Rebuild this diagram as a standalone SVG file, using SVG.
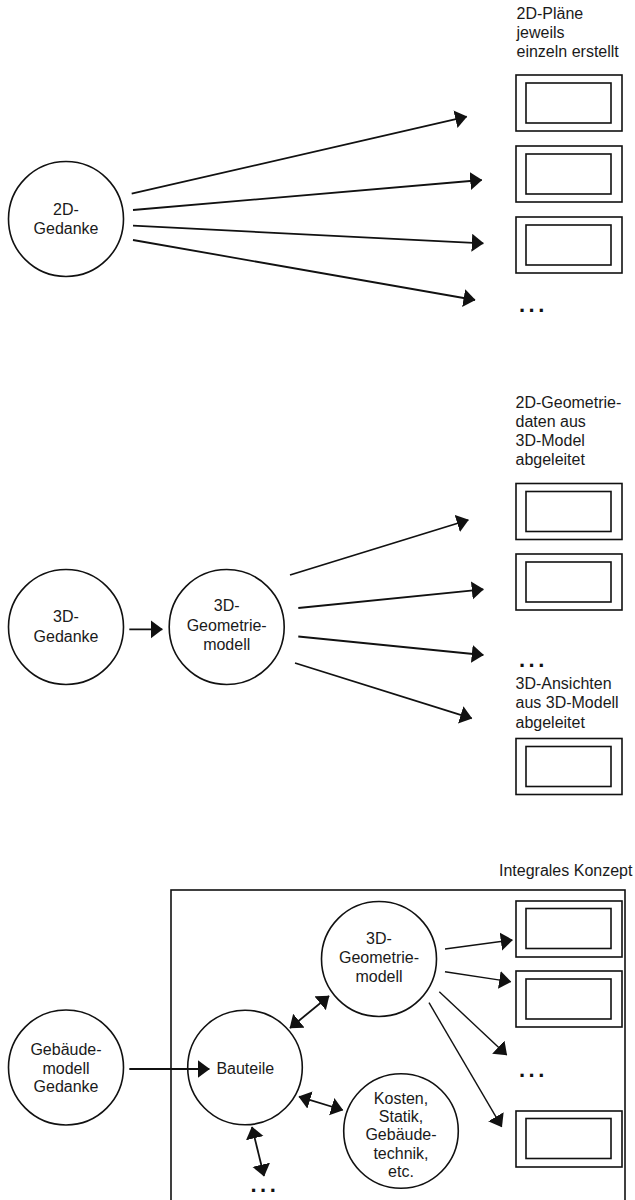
<svg xmlns="http://www.w3.org/2000/svg" width="635" height="1200" viewBox="0 0 635 1200">
<defs>
<style>
.node circle{fill:#fff;stroke:#111;stroke-width:1.6}
.t{font-family:"Liberation Sans",Arial,sans-serif;font-size:16px;fill:#1a1a1a}
.c{text-anchor:middle}
.lbl{font-family:"Liberation Sans",Arial,sans-serif;font-size:16px;fill:#1a1a1a}
.dots{font-family:"Liberation Sans",Arial,sans-serif;font-size:22px;font-weight:bold;fill:#111;letter-spacing:3.5px}
.o{fill:#fff;stroke:#111;stroke-width:1.6}
.i{fill:#fff;stroke:#111;stroke-width:1.6}
.frame{fill:none;stroke:#111;stroke-width:1.6}
#connectors line{stroke:#111;stroke-width:1.8;fill:none;marker-end:url(#ah)}
#connectors line.thin{stroke-width:1.4}
#connectors line.both{marker-start:url(#ah)}
</style>
<marker id="ah" markerUnits="userSpaceOnUse" markerWidth="13" markerHeight="19" refX="11.5" refY="9" orient="auto-start-reverse" viewBox="0 0 13 19">
<path d="M0,0 L12,9 L0,18 z" fill="#111"/>
</marker>
</defs>

<!-- Section 1 -->
<g id="n-2d-gedanke" class="node">
<circle cx="66" cy="219" r="57.5"/>
<text class="t c" x="66" y="215">2D-</text>
<text class="t c" x="66" y="234">Gedanke</text>
</g>
<g id="label-2d-plaene">
<text class="lbl" x="516.5" y="19">2D-Pläne</text>
<text class="lbl" x="516.5" y="38">jeweils</text>
<text class="lbl" x="516.5" y="57">einzeln erstellt</text>
</g>
<g id="plan-1a"><rect class="o" x="516" y="75" width="106" height="56"/><rect class="i" x="526" y="83" width="85" height="40"/></g>
<g id="plan-1b"><rect class="o" x="516" y="146" width="106" height="56"/><rect class="i" x="526" y="154" width="85" height="40"/></g>
<g id="plan-1c"><rect class="o" x="516" y="217" width="106" height="56"/><rect class="i" x="526" y="225" width="85" height="40"/></g>
<g id="dots-1"><text class="dots" x="519" y="312">...</text></g>

<!-- Section 2 -->
<g id="n-3d-gedanke" class="node">
<circle cx="66" cy="627" r="57.5"/>
<text class="t c" x="66" y="622">3D-</text>
<text class="t c" x="66" y="641.5">Gedanke</text>
</g>
<g id="n-3d-geo-1" class="node">
<circle cx="226.7" cy="627" r="57.5"/>
<text class="t c" x="226.7" y="611">3D-</text>
<text class="t c" x="226.7" y="630.5">Geometrie-</text>
<text class="t c" x="226.7" y="650">modell</text>
</g>
<g id="label-2d-geo">
<text class="lbl" x="515.5" y="408">2D-Geometrie-</text>
<text class="lbl" x="515.5" y="427">daten aus</text>
<text class="lbl" x="515.5" y="446">3D-Model</text>
<text class="lbl" x="515.5" y="465">abgeleitet</text>
</g>
<g id="plan-2a"><rect class="o" x="516" y="483.5" width="106" height="56"/><rect class="i" x="526" y="491.5" width="85" height="40"/></g>
<g id="plan-2b"><rect class="o" x="516" y="554" width="106" height="56"/><rect class="i" x="526" y="562" width="85" height="40"/></g>
<g id="dots-2"><text class="dots" x="519" y="667">...</text></g>
<g id="label-3d-ansichten">
<text class="lbl" x="515.5" y="688.5">3D-Ansichten</text>
<text class="lbl" x="515.5" y="708">aus 3D-Modell</text>
<text class="lbl" x="515.5" y="727.5">abgeleitet</text>
</g>
<g id="plan-2c"><rect class="o" x="516" y="738.5" width="106" height="56"/><rect class="i" x="526" y="746.5" width="85" height="40"/></g>

<!-- Section 3 -->
<g id="label-integral"><text class="lbl" x="499" y="876">Integrales Konzept</text></g>
<g id="frame-integral"><rect class="frame" x="171" y="890" width="454" height="330"/></g>
<g id="n-gebaeudemodell" class="node">
<circle cx="66" cy="1067.5" r="57.5"/>
<text class="t c" x="66" y="1054.5">Gebäude-</text>
<text class="t c" x="66" y="1073.5">modell</text>
<text class="t c" x="66" y="1092">Gedanke</text>
</g>
<g id="n-bauteile" class="node">
<circle cx="245" cy="1067.5" r="57.3"/>
<text class="t c" x="245.3" y="1074">Bauteile</text>
</g>
<g id="n-3d-geo-2" class="node">
<circle cx="379" cy="959" r="57.5"/>
<text class="t c" x="379" y="944">3D-</text>
<text class="t c" x="379" y="963">Geometrie-</text>
<text class="t c" x="379" y="982">modell</text>
</g>
<g id="n-kosten" class="node">
<circle cx="401" cy="1131" r="57.3"/>
<text class="t c" x="401" y="1103.5">Kosten,</text>
<text class="t c" x="401" y="1122">Statik,</text>
<text class="t c" x="401" y="1140">Gebäude-</text>
<text class="t c" x="401" y="1158.5">technik,</text>
<text class="t c" x="401" y="1177">etc.</text>
</g>
<g id="plan-3a"><rect class="o" x="516" y="901" width="106" height="56"/><rect class="i" x="526" y="908.5" width="85" height="40"/></g>
<g id="plan-3b"><rect class="o" x="516" y="971" width="106" height="56"/><rect class="i" x="526" y="979" width="85" height="40"/></g>
<g id="dots-3"><text class="dots" x="519" y="1077">...</text></g>
<g id="plan-3c"><rect class="o" x="516" y="1111" width="106" height="56"/><rect class="i" x="526" y="1118.5" width="85" height="40"/></g>
<g id="dots-4"><text class="dots" x="250.5" y="1192">...</text></g>

<g id="connectors">
<line x1="131.7" y1="193.7" x2="466.7" y2="116.7"/>
<line x1="133" y1="210" x2="481.7" y2="180"/>
<line x1="133" y1="225.7" x2="483.3" y2="243.3"/>
<line x1="133" y1="240" x2="475" y2="300"/>
<line x1="129.3" y1="629.3" x2="162.3" y2="629.3"/>
<line x1="290" y1="575" x2="468.3" y2="520"/>
<line x1="298.3" y1="608" x2="483.3" y2="589.3"/>
<line x1="298.3" y1="636.5" x2="483.3" y2="655"/>
<line x1="295" y1="663" x2="471.7" y2="718.3"/>
<line x1="129.3" y1="1069" x2="209.3" y2="1069"/>
<line class="both" x1="290" y1="1028" x2="329" y2="996"/>
<line class="both" x1="299" y1="1096.7" x2="342.7" y2="1110"/>
<line class="both" x1="252" y1="1127" x2="264" y2="1176"/>
<line class="thin" x1="445" y1="949" x2="512.3" y2="940"/>
<line class="thin" x1="445" y1="971.7" x2="510.7" y2="981.7"/>
<line class="thin" x1="439.3" y1="991.7" x2="506.7" y2="1055"/>
<line class="thin" x1="429" y1="1002.7" x2="501.7" y2="1126.7"/>
</g>
</svg>
